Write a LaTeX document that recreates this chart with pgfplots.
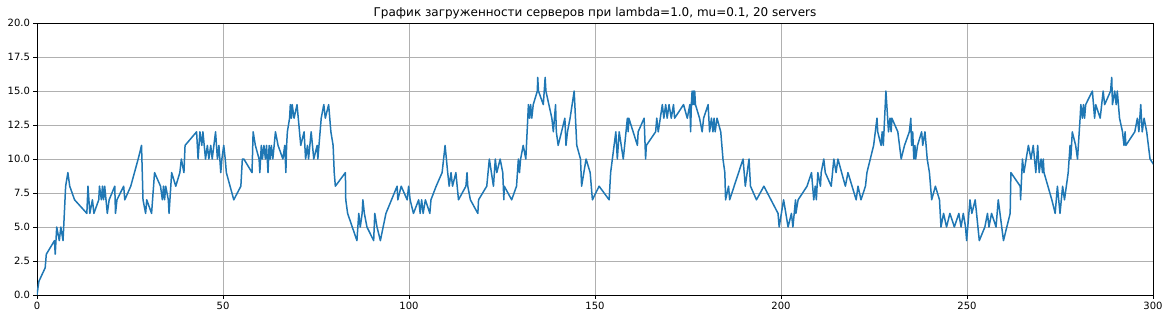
\documentclass[border=0pt]{standalone}
\usepackage{pgfplots}
\pgfplotsset{compat=1.18}
\usepackage{fontspec}
\setmainfont{DejaVu Sans}
\definecolor{mplblue}{RGB}{31,119,180}
\definecolor{gridgray}{RGB}{176,176,176}
\begin{document}
\begin{tikzpicture}
\begin{axis}[
  width=1116pt, height=272pt, scale only axis,
  xmin=0, xmax=300, ymin=0, ymax=20,
  xtick={0,50,100,150,200,250,300},
  ytick={0,2.5,5,7.5,10,12.5,15,17.5,20},
  yticklabel style={/pgf/number format/.cd, fixed, fixed zerofill, precision=1},
  /pgf/number format/assume math mode=true,
  ticklabel style={font=\fontsize{10}{12}\selectfont},
  grid=major,
  grid style={color=gridgray, line width=0.8pt},
  axis line style={line width=0.8pt},
  tick align=outside, tick pos=left,
  major tick length=3.5pt,
  every tick/.style={black, line width=0.8pt},
  title={График загруженности серверов при lambda=1.0, mu=0.1, 20 servers},
  title style={font=\fontsize{12}{14}\selectfont, yshift=-5.5pt},
]
\addplot[color=mplblue, line width=1.5pt, line join=round] table {
x y
0 0
0.5 1
2.2 2
2.5 3
4.7 4
4.9 3
5.3 5
6.0 4
6.4 5
7.0 4
7.7 8
8.3 9
8.8 8
10.1 7
13.4 6
13.7 8
14.2 6
14.9 7
15.3 6
16.6 7
16.8 8
17.3 7
17.6 8
17.9 7
18.2 8
18.9 6
19.4 7
20.9 8
21.1 6
21.5 7
23.3 8
23.6 7
25.2 8
27.2 10
28.1 11
28.5 7
29.2 6
29.5 7
30.8 6
31.6 9
33.2 8
33.7 7
34.0 8
34.3 7
34.6 8
35.3 7
35.5 6
36.2 9
37.3 8
38.4 9
38.8 10
39.5 9
39.8 11
42.9 12
43.3 10
43.8 12
44.3 11
44.6 12
45.3 10
45.8 11
46.2 10
46.7 11
47.1 10
48.0 12
48.5 10
48.9 11
49.4 9
49.7 10
50.2 11
50.6 10
50.9 9
52.9 7
54.8 8
55.2 10
55.6 10
57.8 9
58.1 12
58.7 11
59.7 10
59.9 9
60.3 11
60.6 10
61.0 11
61.4 10
61.7 11
62.1 9
62.4 11
62.7 10
63.0 11
63.4 10
64.1 12
64.8 11
66.1 10
66.6 11
66.9 9
67.1 11
67.3 12
67.9 13
68.1 14
68.4 13
68.6 14
69.1 13
69.9 14
70.9 11
71.8 12
72.2 10
72.7 11
73.0 10
73.7 12
74.4 10
75.3 11
75.5 10
76.4 13
77.1 14
77.5 13
78.4 14
79.0 12
79.6 11
79.9 9
80.2 8
82.9 9
83.0 7
83.5 6
86.0 4
86.5 6
86.9 5
87.4 6
87.6 7
88.0 6
88.7 5
90.5 4
90.8 6
91.4 5
92.3 4
93.8 6
96.8 8
97.0 7
97.9 8
99.5 7
99.9 8
100.3 7
101.2 6
102.6 7
103.0 6
103.4 7
103.8 6
104.4 7
105.6 6
105.9 7
107.3 8
108.9 9
109.7 11
110.4 9
110.8 8
111.3 9
111.7 8
112.6 9
113.3 7
115.3 8
115.6 9
115.8 8
116.5 7
118.5 6
118.7 7
120.9 8
121.6 10
122.7 8
123.2 10
123.6 9
124.5 10
125.2 9
125.5 7
125.6 8
127.6 7
128.9 8
129.4 10
129.7 9
130.0 10
130.7 11
131.4 10
132.1 14
132.4 13
132.7 14
133.0 13
133.4 14
134.5 15
134.6 16
134.8 15
136.1 14
136.6 16
136.8 15
138.4 13
138.8 12
139.4 14
139.6 12
140.1 11
141.9 13
142.2 11
142.6 12
143.3 13
144.4 15
145.1 11
146.1 10
146.4 8
147.6 10
148.7 9
149.3 7
151.1 8
153.8 7
154.2 9
155.6 12
156.0 10
156.5 12
157.6 10
158.7 13
158.9 12
159.1 13
161.4 11
161.6 12
163.2 13
163.6 10
163.8 11
166.3 12
166.6 13
167.0 12
168.1 14
168.5 13
169.0 14
169.4 13
169.9 14
170.5 13
171.1 14
171.4 13
173.8 14
174.8 13
175.5 14
175.7 12
175.9 14
176.1 15
176.3 14
176.5 15
176.7 14
176.8 15
177.0 14
178.1 13
178.8 12
179.2 13
180.4 14
180.8 12
181.3 13
181.7 12
182.0 13
182.3 12
182.8 13
183.8 12
184.4 10
184.9 9
185.1 7
185.9 8
186.2 7
189.8 10
190.4 8
191.4 10
191.8 8
193.4 7
195.4 8
199.2 6
199.5 5
200.1 6
200.7 7
201.9 5
202.8 6
203.2 5
203.9 7
204.0 6
204.6 7
207.0 8
208.2 9
208.8 7
209.2 8
209.5 7
209.9 9
210.6 8
210.8 9
211.5 10
211.9 9
213.5 8
214.2 10
214.8 9
215.3 10
217.3 8
218.0 9
220.2 7
220.7 8
221.5 7
222.7 8
223.1 9
224.9 11
225.8 13
226.0 12
226.9 11
227.2 12
227.5 11
228.2 15
228.9 12
229.3 13
229.6 12
229.8 13
231.4 12
232.3 10
233.2 11
234.5 12
234.9 13
235.1 11
235.4 12
235.7 10
236.0 11
236.2 10
236.7 11
237.8 12
238.1 11
238.7 12
239.0 11
239.3 10
239.9 9
240.5 7
241.5 8
242.6 7
243.0 5
243.7 6
244.5 5
245.4 6
246.6 5
247.8 6
248.4 5
249.0 6
249.6 5
249.9 4
250.8 7
251.3 6
252.2 7
253.3 4
254.8 5
255.5 6
255.9 5
256.6 6
257.8 5
258.4 7
259.8 4
261.6 6
261.8 9
264.3 8
264.4 7
264.9 10
265.3 9
266.5 11
267.2 10
267.8 11
268.5 9
269.0 11
269.4 9
269.9 10
270.3 9
270.5 10
270.7 9
272.8 7
273.7 6
274.3 8
275.0 6
275.7 8
276.2 7
277.2 9
277.7 11
277.9 10
278.3 12
279.2 11
279.7 10
280.4 13
280.6 14
281.0 13
281.3 14
281.6 13
281.9 14
283.7 15
284.3 13
284.6 14
285.8 13
286.6 15
287.0 14
288.6 15
288.9 16
289.1 14
289.7 15
290.1 14
290.4 15
291.0 13
291.8 12
292.2 11
292.5 12
292.7 11
295.1 12
295.8 13
296.2 12
296.7 14
297.1 12
297.6 13
298.3 12
299.2 10
301.6 9
};
\end{axis}
\path ([xshift=-37pt,yshift=-24pt]current axis.south west) rectangle ([xshift=16pt,yshift=23pt]current axis.north east);
\end{tikzpicture}
\end{document}
